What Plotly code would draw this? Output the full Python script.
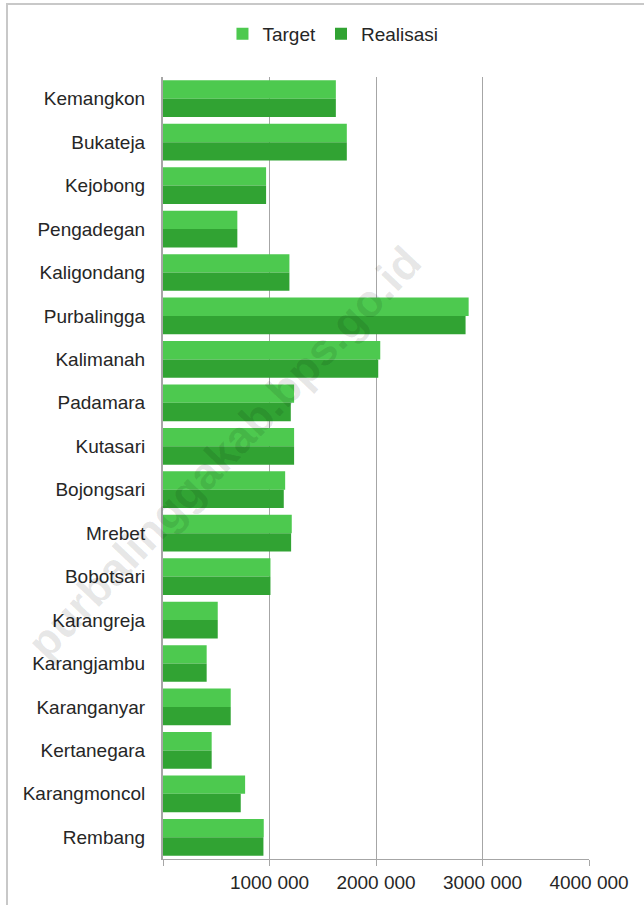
import plotly.graph_objects as go

categories = ["Kemangkon", "Bukateja", "Kejobong", "Pengadegan", "Kaligondang",
              "Purbalingga", "Kalimanah", "Padamara", "Kutasari", "Bojongsari",
              "Mrebet", "Bobotsari", "Karangreja", "Karangjambu", "Karanganyar",
              "Kertanegara", "Karangmoncol", "Rembang"]
target = [1623000, 1726000, 968000, 698000, 1187000,
          2870000, 2040000, 1231000, 1231000, 1147000,
          1209000, 1009000, 514000, 410000, 636000,
          457000, 771000, 946000]
realisasi = [1623000, 1726000, 968000, 698000, 1187000,
             2841000, 2021000, 1200000, 1231000, 1134000,
             1203000, 1009000, 514000, 410000, 636000,
             457000, 730000, 943000]
tick_vals = [0, 1000000, 2000000, 3000000, 4000000]
tick_text = ["", "1000 000", "2000 000", "3000 000", "4000 000"]

font_family = "Liberation Sans, Arial, sans-serif"

fig = go.Figure()
fig.add_trace(go.Bar(name="Target", y=categories, x=target, orientation="h",
                     marker=dict(color="#4DC94F", line=dict(width=0))))
fig.add_trace(go.Bar(name="Realisasi", y=categories, x=realisasi, orientation="h",
                     marker=dict(color="#31A333", line=dict(width=0))))

fig.update_layout(
    width=644, height=905,
    margin=dict(l=163, r=55, t=77, b=46),
    paper_bgcolor="white", plot_bgcolor="white",
    barmode="group", bargap=0.155, bargroupgap=0,
    font=dict(family=font_family, size=19, color="#262626"),
    legend=dict(orientation="h", x=0.399, xanchor="center", y=1.055, yanchor="middle",
                font=dict(size=19, color="#262626"), traceorder="normal",
                itemwidth=30, bgcolor="rgba(0,0,0,0)"),
    xaxis=dict(range=[0, 4000000], tickvals=tick_vals, ticktext=tick_text,
               showgrid=True, gridcolor="#A6A6A6", gridwidth=1,
               showline=True, linecolor="#A6A6A6", linewidth=1,
               ticks="outside", ticklen=6, tickcolor="#A6A6A6",
               tickfont=dict(size=19, color="#262626"), zeroline=False, fixedrange=True),
    yaxis=dict(autorange="reversed", showline=True, linecolor="#A6A6A6", linewidth=2,
               ticks="", ticklabelstandoff=12, tickfont=dict(size=19, color="#262626"),
               showgrid=False, fixedrange=True),
    shapes=[dict(type="rect", xref="paper", yref="paper",
                 x0=(7 - 163) / 426, x1=(660 - 163) / 426,
                 y0=(859 - 920) / 782, y1=(859 - 4) / 782,
                 line=dict(color="#C8C8C8", width=2), fillcolor="rgba(0,0,0,0)", layer="below")],
    annotations=[dict(text="purbalinggakab.bps.go.id", xref="paper", yref="paper",
                      x=(224 - 163) / 426, y=(859 - 452) / 782, showarrow=False,
                      xanchor="center", yanchor="middle",
                      textangle=-46.5, font=dict(size=45, color="rgba(0,0,0,0.10)",
                                                  family=font_family, weight="bold"))],
)

fig.write_html("out.html", config={"displayModeBar": False},
               post_script="document.body.style.margin='0';")
